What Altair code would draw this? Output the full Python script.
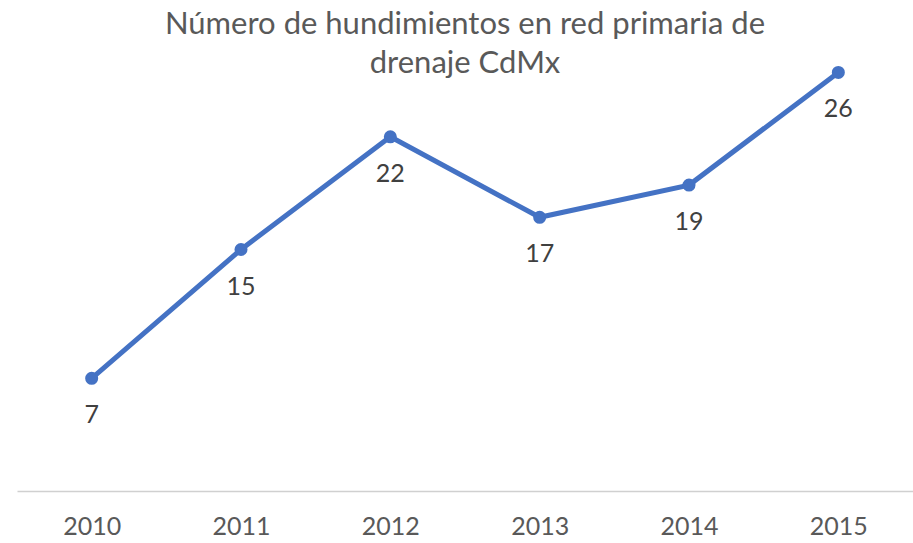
import altair as alt
import pandas as pd

years = ["2010", "2011", "2012", "2013", "2014", "2015"]
values = [7, 15, 22, 17, 19, 26]

df = pd.DataFrame({"year": years, "value": values})

FONT = "Lato"

x = alt.X("year:N", sort=years, title=None,
          scale=alt.Scale(paddingInner=1, paddingOuter=0.5),
          axis=alt.Axis(labelAngle=0, labelFontSize=25, labelColor="#595959", labelFont=FONT,
                        domainColor="#d0d0d0", domainWidth=1.5, ticks=False, labelPadding=23))
y = alt.Y("value:Q", scale=alt.Scale(domain=[0, 30]), axis=None)

base = alt.Chart(df).encode(x=x, y=y)

line = base.mark_line(color="#4472C4", strokeWidth=5)
pts = base.mark_point(filled=True, color="#4472C4", size=170, opacity=1)
labels = base.mark_text(dy=37, fontSize=25, color="#404040", font=FONT).encode(text="value:Q")

chart = alt.layer(line, pts, labels).properties(
    width=896, height=483,
    title=alt.Title(["Número de hundimientos en red primaria de", "drenaje CdMx"],
                    fontSize=31, lineHeight=39, color="#595959", font=FONT, fontWeight="normal",
                    anchor="middle", baseline="top", offset=0, dy=72),
    autosize=alt.AutoSizeParams(type="none"),
    padding={"left": 17, "top": 8, "right": 0, "bottom": 52},
).configure_view(stroke=None)

chart.save("out.html", embed_options={"renderer": "svg", "actions": False})
